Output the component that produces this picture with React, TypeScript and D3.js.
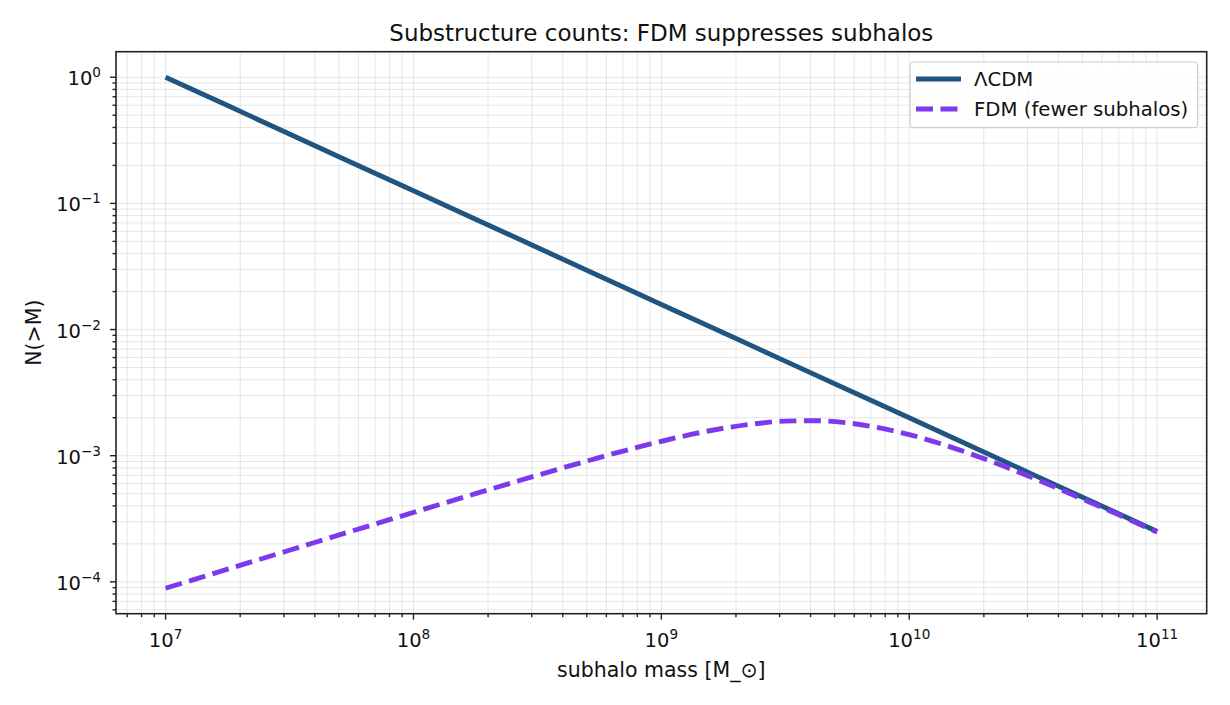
import { useMemo } from 'react';
import * as d3 from 'd3';

// values (log-log axes)
const masses = [
  1e7, 1.78e7, 3.16e7, 5.62e7, 1e8, 1.78e8, 3.16e8, 5.62e8, 1e9, 1.78e9, 3.16e9, 5.62e9,
  1e10, 1.78e10, 3.16e10, 5.62e10, 1e11,
];
const lcdmCounts = [
  1, 0.596, 0.355, 0.211, 0.126, 0.075, 0.0447, 0.0266, 0.0158, 0.00944, 0.00562, 0.00335,
  0.002, 0.00119, 0.000708, 0.000422, 0.000251,
];
const fdmMasses = [
  1e7, 1.78e7, 3.16e7, 5.62e7, 1e8, 1.78e8, 3.16e8, 5.62e8, 1e9, 1.33e9, 1.78e9, 2.37e9,
  3.16e9, 4.22e9, 5.62e9, 7.5e9, 1e10, 1.33e10, 1.78e10, 2.37e10, 3.16e10, 5.62e10, 1e11,
];
const fdmCounts = [
  8.9e-5, 1.26e-4, 1.78e-4, 2.52e-4, 3.55e-4, 5.0e-4, 6.99e-4, 9.67e-4, 1.3e-3, 1.48e-3,
  1.65e-3, 1.79e-3, 1.88e-3, 1.895e-3, 1.82e-3, 1.67e-3, 1.47e-3, 1.25e-3, 1.03e-3, 8.36e-4,
  6.66e-4, 4.11e-4, 2.48e-4,
];
const seriesNames = ['ΛCDM', 'FDM (fewer subhalos)'];
const seriesColors = ['#1f5580', '#7c3aed'];

const W = 1230;
const H = 705;
const plot = { left: 116, right: 1206.7, top: 51.7, bottom: 613.7 };
const font = '"DejaVu Sans", sans-serif';

type Pt = { m: number; n: number };

function sup(exp: number) {
  return exp < 0 ? '\u2212' + Math.abs(exp) : String(exp);
}

export default function App() {
  const x = useMemo(
    () => d3.scaleLog().domain([10 ** 6.8, 10 ** 11.2]).range([plot.left, plot.right]),
    []
  );
  const y = useMemo(
    () => d3.scaleLog().domain([10 ** -4.2525, 10 ** 0.2025]).range([plot.bottom, plot.top]),
    []
  );

  const isMajor = (v: number) => Math.abs(Math.log10(v) - Math.round(Math.log10(v))) < 1e-6;
  const xTicks = x.ticks();
  const yTicks = y.ticks();

  const lcdm: Pt[] = masses.map((m, i) => ({ m, n: lcdmCounts[i] }));
  const fdm: Pt[] = fdmMasses.map((m, i) => ({ m, n: fdmCounts[i] }));

  const straight = d3
    .line<Pt>()
    .x((d) => x(d.m))
    .y((d) => y(d.n));
  const smooth = d3
    .line<Pt>()
    .x((d) => x(d.m))
    .y((d) => y(d.n))
    .curve(d3.curveMonotoneX);

  const lw = 4.9;
  const dash = '17 7.5';

  return (
    <div style={{ position: 'absolute', left: 0, top: 0 }}>
      <svg width={W} height={H} style={{ display: 'block', background: '#fff' }} fontFamily={font}>
        <defs>
          <clipPath id="plot-clip">
            <rect x={plot.left} y={plot.top} width={plot.right - plot.left} height={plot.bottom - plot.top} />
          </clipPath>
        </defs>

        {/* grid, major and minor */}
        <g stroke="#b0b0b0" strokeOpacity={0.3} strokeWidth={1}>
          {xTicks.map((t, i) => (
            <line key={'gx' + i} x1={x(t)} x2={x(t)} y1={plot.top} y2={plot.bottom} />
          ))}
          {yTicks.map((t, i) => (
            <line key={'gy' + i} x1={plot.left} x2={plot.right} y1={y(t)} y2={y(t)} />
          ))}
        </g>

        <g clipPath="url(#plot-clip)" fill="none" strokeLinecap="butt">
          <path d={straight(lcdm) ?? ''} stroke={seriesColors[0]} strokeWidth={lw} />
          <path d={smooth(fdm) ?? ''} stroke={seriesColors[1]} strokeWidth={lw} strokeDasharray={dash} />
        </g>

        {/* frame */}
        <rect
          x={plot.left}
          y={plot.top}
          width={plot.right - plot.left}
          height={plot.bottom - plot.top}
          fill="none"
          stroke="#222"
          strokeWidth={1.6}
        />

        {/* ticks */}
        <g stroke="#222" strokeWidth={1.4}>
          {xTicks.map((t, i) => (
            <line key={'tx' + i} x1={x(t)} x2={x(t)} y1={plot.bottom} y2={plot.bottom + (isMajor(t) ? 6 : 3.5)} />
          ))}
          {yTicks.map((t, i) => (
            <line key={'ty' + i} x1={plot.left} x2={plot.left - (isMajor(t) ? 6 : 3.5)} y1={y(t)} y2={y(t)} />
          ))}
        </g>

        <g fontSize={19.5} fill="#111">
          {xTicks.filter(isMajor).map((t, i) => (
            <text key={'lx' + i} x={x(t)} y={647} textAnchor="middle">
              <tspan>10</tspan>
              <tspan dy={-8} fontSize={13.6}>
                {sup(Math.round(Math.log10(t)))}
              </tspan>
            </text>
          ))}
          {yTicks.filter(isMajor).map((t, i) => (
            <text key={'ly' + i} x={101} y={y(t) + 8} textAnchor="end">
              <tspan>10</tspan>
              <tspan dy={-8} fontSize={13.6}>
                {sup(Math.round(Math.log10(t)))}
              </tspan>
            </text>
          ))}
        </g>

        {/* labels */}
        <text x={(plot.left + plot.right) / 2} y={41} textAnchor="middle" fontSize={23} fill="#111">
          Substructure counts: FDM suppresses subhalos
        </text>
        <text x={(plot.left + plot.right) / 2} y={677} textAnchor="middle" fontSize={20.5} fill="#111">
          subhalo mass [M_⊙]
        </text>
        <text
          transform={`translate(41,${(plot.top + plot.bottom) / 2}) rotate(-90)`}
          textAnchor="middle"
          fontSize={20.5}
          fill="#111"
        >
          N(&gt;M)
        </text>

        {/* legend */}
        <g>
          <rect x={910} y={62} width={287.7} height={65.7} rx={4} fill="#fff" fillOpacity={0.8} stroke="#cccccc" strokeWidth={1.2} />
          {seriesNames.map((name, i) => {
            const cy = 79 + i * 30;
            return (
              <g key={name}>
                <line
                  x1={916}
                  x2={961}
                  y1={cy}
                  y2={cy}
                  stroke={seriesColors[i]}
                  strokeWidth={lw}
                  strokeDasharray={i === 1 ? dash : undefined}
                />
                <text x={974} y={cy + 7} fontSize={19.7} fill="#111">
                  {name}
                </text>
              </g>
            );
          })}
        </g>
      </svg>
    </div>
  );
}
